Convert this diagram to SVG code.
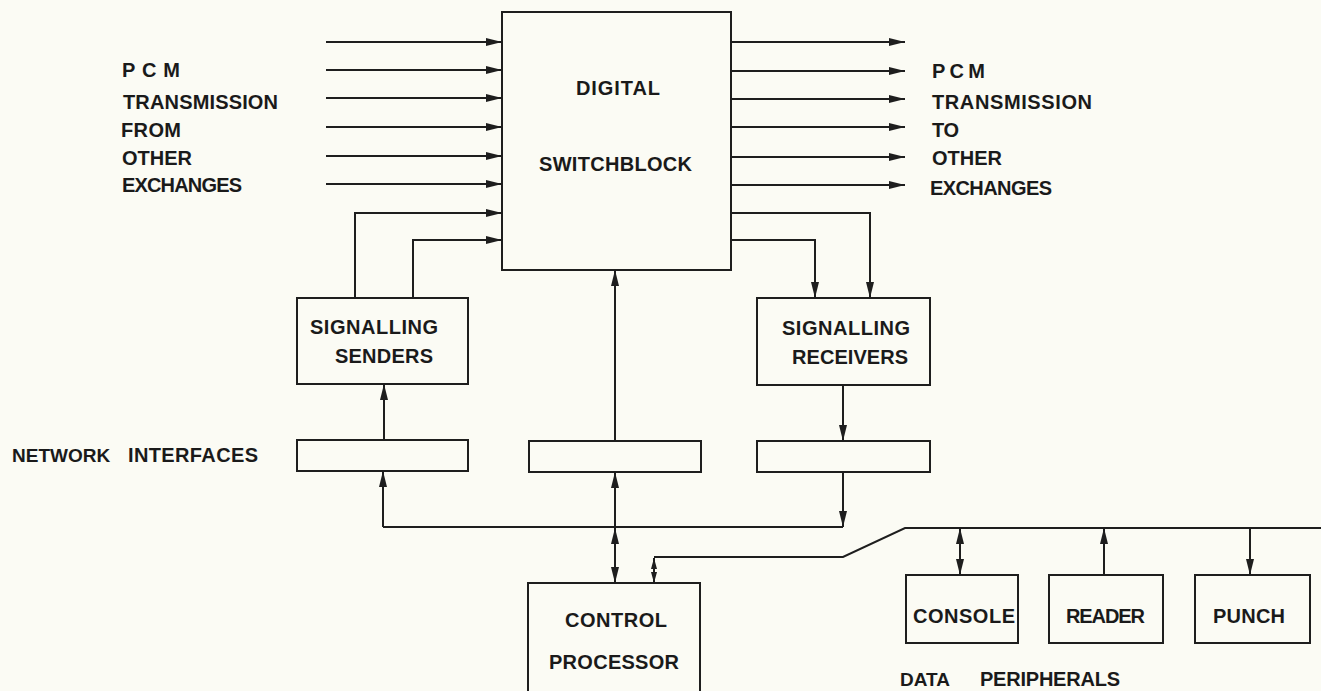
<svg xmlns="http://www.w3.org/2000/svg" width="1321" height="691" viewBox="0 0 1321 691">
<style>
.bg{fill:#fbfbf4}
.box{fill:none;stroke:#1e1e1e;stroke-width:2}
.ln{fill:none;stroke:#1e1e1e;stroke-width:2}
.a{marker-end:url(#ah)}
.aa{marker-start:url(#ah);marker-end:url(#ah)}
.sa{marker-start:url(#sh);marker-end:url(#sh)}
text{font-family:"Liberation Sans",Arial,sans-serif;font-size:20px;font-weight:bold;fill:#1a1a1a}
.s19{font-size:19px}
</style>
<defs>
<marker id="ah" markerUnits="userSpaceOnUse" markerWidth="17" markerHeight="9" refX="16" refY="4.5" orient="auto-start-reverse">
<path d="M0,0.5 L16,4.5 L0,8.5 z" fill="#1e1e1e"/>
</marker>
<marker id="sh" markerUnits="userSpaceOnUse" markerWidth="12" markerHeight="8" refX="11" refY="4" orient="auto-start-reverse">
<path d="M0,1 L11,4 L0,7 z" fill="#1e1e1e"/>
</marker>
</defs>
<rect class="bg" x="0" y="0" width="1321" height="691"/>

<g id="label-pcm-in">
<text x="122" y="77" textLength="58" lengthAdjust="spacing">PCM</text>
<text x="123" y="109" textLength="155" lengthAdjust="spacing">TRANSMISSION</text>
<text x="121" y="137" textLength="60" lengthAdjust="spacing">FROM</text>
<text x="122" y="165" textLength="70" lengthAdjust="spacing">OTHER</text>
<text x="122" y="192" textLength="120" lengthAdjust="spacing">EXCHANGES</text>
</g>

<g id="label-pcm-out">
<text x="932" y="78" textLength="53" lengthAdjust="spacing">PCM</text>
<text x="932" y="109" textLength="160" lengthAdjust="spacing">TRANSMISSION</text>
<text x="932" y="137" textLength="27" lengthAdjust="spacing">TO</text>
<text x="932" y="165" textLength="70" lengthAdjust="spacing">OTHER</text>
<text x="930" y="195" textLength="122" lengthAdjust="spacing">EXCHANGES</text>
</g>

<g id="switchblock">
<rect class="box" x="502" y="12" width="229" height="258"/>
<text x="576" y="95" textLength="84" lengthAdjust="spacing">DIGITAL</text>
<text x="539" y="171" textLength="153" lengthAdjust="spacing">SWITCHBLOCK</text>
</g>

<g id="senders">
<rect class="box" x="297" y="298" width="171" height="86"/>
<text x="310" y="334" textLength="128" lengthAdjust="spacing">SIGNALLING</text>
<text x="335" y="363" textLength="98" lengthAdjust="spacing">SENDERS</text>
</g>

<g id="receivers">
<rect class="box" x="757" y="298" width="173" height="87"/>
<text x="782" y="335" textLength="128" lengthAdjust="spacing">SIGNALLING</text>
<text x="792" y="364" textLength="116" lengthAdjust="spacing">RECEIVERS</text>
</g>

<g id="network-interfaces">
<text class="s19" x="12" y="462">NETWORK</text>
<text x="128" y="462" textLength="130" lengthAdjust="spacing">INTERFACES</text>
<rect class="box" x="297" y="440" width="171" height="31"/>
<rect class="box" x="529" y="441" width="172" height="31"/>
<rect class="box" x="757" y="441" width="173" height="31"/>
</g>

<g id="control-processor">
<rect class="box" x="528" y="583" width="172" height="120"/>
<text x="565" y="627" textLength="102" lengthAdjust="spacing">CONTROL</text>
<text x="549" y="669" textLength="130" lengthAdjust="spacing">PROCESSOR</text>
</g>

<g id="console">
<rect class="box" x="906" y="575" width="112" height="68"/>
<text x="913" y="623" textLength="102" lengthAdjust="spacing">CONSOLE</text>
</g>
<g id="reader">
<rect class="box" x="1049" y="575" width="114" height="68"/>
<text x="1066" y="623" textLength="79" lengthAdjust="spacing">READER</text>
</g>
<g id="punch">
<rect class="box" x="1195" y="575" width="115" height="68"/>
<text x="1213" y="623" textLength="72" lengthAdjust="spacing">PUNCH</text>
</g>
<g id="label-data">
<text class="s19" x="900" y="686">DATA</text>
<text x="980" y="686" textLength="140" lengthAdjust="spacing">PERIPHERALS</text>
</g>

<g id="connectors">
<path class="ln a" d="M326,42 H502"/>
<path class="ln a" d="M326,70 H502"/>
<path class="ln a" d="M326,98 H502"/>
<path class="ln a" d="M326,127 H502"/>
<path class="ln a" d="M326,156 H502"/>
<path class="ln a" d="M326,184 H502"/>
<path class="ln a" d="M355,298 V213 H502"/>
<path class="ln a" d="M413,298 V240 H502"/>

<path class="ln a" d="M731,42 H905"/>
<path class="ln a" d="M731,71 H905"/>
<path class="ln a" d="M731,99 H905"/>
<path class="ln a" d="M731,127 H905"/>
<path class="ln a" d="M731,157 H905"/>
<path class="ln a" d="M731,185 H905"/>
<path class="ln a" d="M731,213 H870 V298"/>
<path class="ln a" d="M731,240 H815 V298"/>

<path class="ln a" d="M615,441 V270"/>
<path class="ln a" d="M384,440 V384"/>
<path class="ln a" d="M843,385 V441"/>

<path class="ln" d="M383,527 H843"/>
<path class="ln a" d="M383,527 V471"/>
<path class="ln a" d="M843,472 V527"/>
<path class="ln a" d="M615,527 V472"/>
<path class="ln aa" d="M615,583 V528"/>

<path class="ln" d="M654,557 H843 L905,528 H1321"/>
<path class="ln sa" d="M654,558 V583"/>

<path class="ln aa" d="M960,575 V528"/>
<path class="ln a" d="M1104,575 V528"/>
<path class="ln a" d="M1250,528 V575"/>
</g>
</svg>
